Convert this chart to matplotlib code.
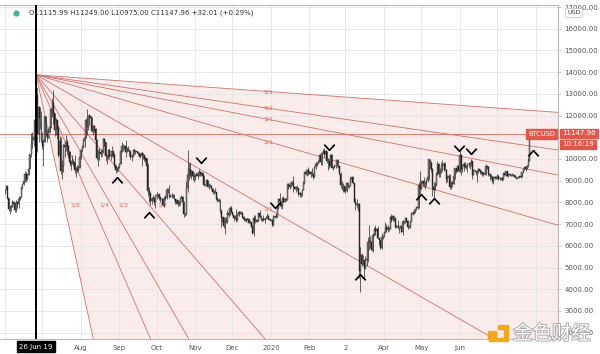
import matplotlib
matplotlib.use("Agg")
import matplotlib.pyplot as plt
import matplotlib.dates as mdates
import matplotlib.patheffects as pe
from matplotlib.patches import Polygon, Rectangle
import numpy as np
import pandas as pd

plt.rcParams['font.family'] = ['DejaVu Sans', 'Noto Sans CJK SC']

# daily BTCUSD candles, 1 Jun 2019 .. 28 Jul 2020
start_day = "2019-06-01"
first_open = 8550
closes = [
    8560, 8740, 8210, 7700, 7790, 7810, 8000, 7930, 7630, 8010, 7920, 8180, 8230, 8690, 8860, 8990, 9320, 9080, 9270, 9530, 10210, 10700, 10860, 11010, 11780, 12930, 11150, 12380, 11900, 10820,
    10580, 10800, 11980, 11150, 10980, 11250, 11470, 12300, 12580, 12100, 11350, 11800, 11380, 10200, 10850, 9450, 9690, 10630, 10530, 10760, 10590, 10320, 9850, 9780, 9880, 9850, 9480, 9530, 9500, 9590, 10090,
    10400, 10530, 10820, 10980, 11800, 11470, 11990, 11980, 11870, 11300, 11530, 11380, 10860, 10050, 10300, 10330, 10220, 10320, 10920, 10760, 10130, 10120, 10400, 10140, 10140, 10370, 10190, 9720, 9490, 9590, 9630,
    9760, 10380, 10620, 10580, 10580, 10320, 10500, 10390, 10310, 10110, 10150, 10400, 10360, 10360, 10310, 10260, 10190, 10160, 10270, 10170, 9980, 10030, 9700, 8530, 8430, 8060, 8180, 8200, 8040, 8300,
    8330, 8390, 8230, 8150, 8150, 7870, 8200, 8200, 8590, 8590, 8270, 8300, 8280, 8360, 8160, 8000, 8100, 7950, 7960, 8220, 8230, 8030, 7470, 7450, 8660, 9250, 9550, 9250, 9430, 9200, 9150,
    9250, 9300, 9200, 9400, 9320, 9340, 9200, 8790, 8810, 9030, 8720, 8820, 8760, 8640, 8460, 8490, 8500, 8170, 8120, 8080, 7610, 7280, 7330, 6900, 7120, 7160, 7520, 7430, 7760, 7570,
    7420, 7300, 7300, 7200, 7400, 7540, 7510, 7530, 7340, 7220, 7200, 7190, 7250, 7070, 7110, 6880, 6610, 7280, 7150, 7190, 7140, 7510, 7320, 7250, 7200, 7200, 7250, 7300, 7390, 7220, 7170,
    7200, 6960, 7340, 7350, 7350, 7760, 8160, 8050, 7820, 8190, 8020, 8180, 8110, 8820, 8810, 8720, 8900, 8900, 8700, 8630, 8720, 8660, 8380, 8430, 8330, 8590, 8900, 9390, 9290, 9510, 9350,
    9380, 9330, 9290, 9180, 9610, 9760, 9810, 9910, 10170, 9850, 10270, 10350, 10240, 10360, 9900, 9930, 9700, 10180, 9600, 9610, 9690, 9670, 9960, 9660, 9310, 8780, 8810, 8710, 8530,
    8520, 8910, 8760, 8750, 9070, 9150, 8890, 8030, 7940, 7890, 7940, 4850, 5600, 5170, 5360, 5000, 5330, 5410, 6190, 6190, 6190, 5830, 6480, 6770, 6690, 6760, 6370, 6250, 5880, 6400, 6420,
    6640, 6800, 6740, 6860, 6780, 7340, 7200, 7370, 7290, 6870, 6890, 6910, 6860, 6850, 6630, 7110, 7100, 7260, 7130, 6850, 6860, 7130, 7480, 7510, 7540, 7690, 7790, 7760, 8780, 8620,
    8830, 8970, 8900, 8880, 9030, 9150, 9990, 9810, 9540, 8720, 8560, 8810, 9310, 9790, 9310, 9380, 9670, 9730, 9780, 9510, 9060, 9170, 9180, 8720, 8900, 8840, 9200, 9580, 9430, 9700, 9450,
    10200, 9520, 9670, 9790, 9620, 9670, 9750, 9780, 9780, 9890, 9270, 9470, 9470, 9340, 9430, 9530, 9460, 9380, 9300, 9360, 9290, 9690, 9630, 9290, 9250, 9160, 9000, 9130, 9190, 9140,
    9230, 9090, 9060, 9130, 9080, 9340, 9250, 9430, 9230, 9290, 9240, 9300, 9240, 9250, 9190, 9130, 9150, 9170, 9210, 9160, 9390, 9530, 9610, 9550, 9700, 9930, 11116, 11148,
]
highs = [
    8620, 8800, 8750, 8200, 7900, 7890, 8100, 8080, 8000, 8120, 8030, 8200, 8310, 8700, 8870, 9000, 9440, 9380, 9300, 9530, 10250, 11200, 11230, 11070, 11800, 13880, 13300, 12450, 12350, 12200,
    11250, 10900, 12000, 12000, 11400, 11450, 11600, 12350, 12800, 13200, 12100, 11900, 11800, 11500, 11050, 11000, 9950, 10700, 10800, 11100, 10900, 10650, 10350, 9950, 10200, 10000, 10200, 9640, 9740, 9720, 10130,
    10450, 10650, 10950, 11100, 11900, 12300, 12000, 12050, 12000, 11950, 11580, 11550, 11450, 10900, 10450, 10500, 10470, 10450, 10950, 10950, 10800, 10250, 10450, 10450, 10300, 10600, 10380, 10280, 9700, 9650, 9700,
    9800, 10450, 10800, 10700, 10650, 10880, 10550, 10600, 10450, 10400, 10250, 10450, 10450, 10400, 10380, 10350, 10280, 10250, 10300, 10270, 10180, 10100, 10050, 9800, 8700, 8450, 8250, 8320, 8240, 8350,
    8500, 8400, 8400, 8250, 8200, 8200, 8300, 8350, 8670, 8650, 8800, 8400, 8450, 8400, 8400, 8170, 8150, 8120, 8100, 8260, 8330, 8300, 8050, 7500, 9000, 10400, 9800, 9850, 9500, 9450, 9400,
    9280, 9390, 9380, 9550, 9450, 9400, 9380, 9250, 8850, 9100, 9050, 8880, 8850, 8800, 8650, 8550, 8650, 8500, 8250, 8200, 8150, 7700, 7350, 7330, 7350, 7350, 7630, 7600, 7850, 7820,
    7570, 7420, 7400, 7700, 7500, 7600, 7600, 7600, 7580, 7380, 7280, 7260, 7300, 7280, 7200, 7120, 6950, 7400, 7400, 7230, 7200, 7530, 7660, 7400, 7270, 7430, 7300, 7380, 7500, 7400, 7280,
    7250, 7220, 7400, 7380, 7500, 7800, 8200, 8450, 8050, 8200, 8300, 8200, 8200, 8900, 8900, 8850, 9000, 9000, 9200, 8700, 8760, 8800, 8660, 8500, 8400, 8600, 9000, 9400, 9400, 9550, 9650,
    9440, 9470, 9590, 9340, 9700, 9850, 9870, 9950, 10200, 10150, 10300, 10450, 10500, 10400, 10380, 10050, 9950, 10250, 10250, 9700, 9750, 9700, 10000, 10000, 9680, 9400, 8980, 8900, 8800,
    8750, 8950, 8920, 8800, 9150, 9170, 9200, 8900, 8200, 8150, 7970, 7960, 5950, 5650, 5600, 5360, 5550, 5450, 6400, 6950, 6450, 6400, 6600, 6850, 6950, 6800, 6900, 6300, 6260, 6570, 6520,
    6690, 7100, 7000, 6980, 6880, 7380, 7450, 7420, 7380, 7300, 6950, 7200, 6900, 6950, 6940, 7200, 7150, 7300, 7280, 7200, 6950, 7150, 7550, 7600, 7700, 7700, 7800, 7800, 8950, 9450,
    9050, 9000, 9180, 9000, 9100, 9350, 9990, 10000, 9900, 9570, 8950, 8950, 9400, 9930, 9800, 9590, 9880, 9950, 9880, 9850, 9560, 9270, 9300, 9310, 8980, 9000, 9230, 9600, 9600, 9720, 9700,
    10400, 10230, 9690, 9880, 9850, 9730, 9800, 9800, 9880, 9990, 9930, 9540, 9500, 9480, 9500, 9580, 9550, 9480, 9400, 9400, 9420, 9780, 9700, 9680, 9340, 9290, 9200, 9200, 9230, 9200,
    9300, 9250, 9150, 9170, 9150, 9350, 9360, 9450, 9440, 9320, 9300, 9330, 9350, 9300, 9270, 9200, 9190, 9200, 9230, 9220, 9420, 9540, 9650, 9650, 9730, 10090, 11400, 11249,
]
lows = [
    8400, 8550, 8150, 7600, 7480, 7600, 7850, 7860, 7550, 7560, 7750, 7720, 8130, 8200, 8600, 8800, 8950, 8950, 9020, 9250, 9550, 10100, 10500, 10600, 11000, 11650, 10300, 10800, 11400, 10800,
    10450, 9700, 10780, 11050, 10800, 10950, 11200, 11450, 11950, 11600, 11050, 11100, 10900, 10100, 10050, 9300, 9100, 9400, 10100, 10350, 10200, 10050, 9700, 9500, 9750, 9700, 9350, 9190, 9400, 9400, 9580,
    10000, 10300, 10500, 10550, 11000, 11100, 11350, 11550, 11700, 11250, 11100, 11250, 10750, 9950, 9700, 9950, 10100, 10150, 10300, 10600, 9900, 9750, 10000, 10050, 9950, 10100, 10100, 9650, 9350, 9400, 9450,
    9580, 9760, 10320, 10380, 10450, 10100, 10300, 10350, 10150, 9980, 9900, 10100, 10200, 10250, 10280, 10150, 10100, 10050, 9700, 10000, 9900, 9860, 9680, 8300, 8000, 7900, 7950, 8050, 7900, 7750,
    8180, 8200, 8100, 8000, 8050, 7850, 7800, 8100, 8150, 8450, 8200, 8250, 8200, 8200, 8100, 7950, 7950, 7850, 7850, 7880, 8200, 8000, 7350, 7360, 7400, 8500, 9050, 9180, 9100, 9050, 8950,
    9020, 9200, 9100, 9200, 9200, 9200, 9100, 8750, 8740, 8780, 8700, 8640, 8700, 8600, 8400, 8400, 8450, 8100, 8000, 8030, 7530, 6850, 7100, 6800, 6550, 7050, 7050, 7350, 7400, 7500,
    7400, 7150, 7250, 7100, 7150, 7360, 7480, 7450, 7280, 7150, 7150, 7100, 7200, 7050, 7020, 6860, 6550, 6450, 7050, 7100, 7100, 7130, 7280, 7150, 7140, 7150, 7060, 7230, 7280, 7200, 7140,
    7150, 6900, 6900, 7270, 7300, 7350, 7700, 7850, 7750, 7700, 8000, 8030, 8050, 8100, 8600, 8620, 8700, 8800, 8500, 8600, 8500, 8580, 8300, 8250, 8250, 8300, 8580, 8850, 9250, 9200, 9250,
    9300, 9150, 9200, 9080, 9160, 9550, 9700, 9750, 9870, 9730, 9720, 10250, 10100, 10200, 9800, 9500, 9600, 9700, 9580, 9480, 9580, 9600, 9650, 9600, 9300, 8650, 8550, 8500, 8500,
    8420, 8500, 8650, 8650, 8750, 9000, 8850, 8000, 7630, 7720, 7600, 4500, 3860, 5050, 5100, 4450, 4950, 5050, 5250, 5800, 5900, 5750, 5700, 6450, 6500, 6550, 6330, 6050, 5850, 5850, 6320,
    6400, 6600, 6650, 6650, 6680, 6780, 7100, 7150, 7140, 6800, 6800, 6760, 6600, 6800, 6620, 6500, 7000, 7050, 7080, 6780, 6800, 6830, 7100, 7420, 7480, 7520, 7650, 7700, 7730, 8400,
    8650, 8750, 8720, 8600, 8760, 8920, 9050, 9560, 9400, 8300, 8200, 8550, 8750, 9270, 9150, 9170, 9360, 9470, 9460, 9500, 8900, 8950, 9120, 8640, 8600, 8720, 8840, 9100, 9350, 9400, 9400,
    9420, 9280, 9400, 9460, 9580, 9550, 9400, 9650, 9550, 9700, 9100, 9240, 9400, 9250, 8950, 9350, 9330, 9300, 9200, 9200, 9250, 9280, 9550, 9200, 9050, 9080, 8900, 8860, 9070, 9100,
    9100, 9040, 9050, 9050, 9000, 9050, 9230, 9230, 9220, 9150, 9200, 9200, 9230, 9200, 9160, 9100, 9100, 9130, 9130, 9120, 9150, 9350, 9510, 9450, 9530, 9650, 9900, 10975,
]

last_price = 11147.96
ohlc_text = "O11115.99 H11249.00 L10975.00 C11147.96 +32.01 (+0.29%)"

# Gann fan drawn from the 26 Jun 2019 top
fan_date = "2019-06-26"
fan_price = 13880
fan_slope = 33.0          # USD per day for the 1/1 line
fan_box_days = 187
fan_ratios = [8, 4, 3, 2, 1, 1/2, 1/3, 1/4, 1/8]
fan_labels = ["8/1", "4/1", "3/1", "2/1", "1/1", "1/2", "1/3", "1/4", "1/8"]

# hand drawn chevrons: date, price, direction
marks = [
    ("2019-08-30", 9030, "up"), ("2019-09-25", 7400, "up"), ("2019-11-06", 9950, "down"),
    ("2020-01-04", 7900, "down"), ("2020-02-17", 10550, "down"), ("2020-03-13", 4560, "up"),
    ("2020-05-01", 8250, "up"), ("2020-05-11", 8060, "up"), ("2020-05-31", 10510, "down"),
    ("2020-06-10", 10370, "down"), ("2020-07-30", 10280, "up"),
]

month_ticks = ["2019-08-01", "2019-09-01", "2019-10-01", "2019-11-01", "2019-12-01", "2020-01-01",
               "2020-02-01", "2020-03-01", "2020-04-01", "2020-05-01", "2020-06-01"]
month_labels = ["Aug", "Sep", "Oct", "Nov", "Dec", "2020", "Feb", "2", "Apr", "May", "Jun"]
grid_months = pd.date_range("2019-06-01", "2020-08-01", freq="MS")
price_ticks = list(range(2000, 18000, 1000))

fan_red = "#cf716b"
grid_c = "#e4e4e4"

fig = plt.figure(figsize=(6, 3.54), dpi=100)
ax = fig.add_axes([0, 15 / 354, 558 / 600, 334 / 354])

x = mdates.date2num(pd.date_range(start_day, periods=len(closes), freq="D"))
o = np.array([first_open] + closes[:-1], dtype=float)
c = np.array(closes, dtype=float)
h = np.maximum(np.array(highs, dtype=float), np.maximum(o, c))
l = np.minimum(np.array(lows, dtype=float), np.minimum(o, c))

x0 = mdates.date2num(pd.Timestamp(fan_date))
ax.set_xlim(x0 - 29, x0 + 420)
ax.set_ylim(1709, 17093)

# grid
for gm in mdates.date2num(grid_months):
    ax.axvline(gm, color=grid_c, lw=0.6, zorder=1)
for p in price_ticks:
    ax.axhline(p, color=grid_c, lw=0.6, zorder=1)

# fan fill and lines
far = x0 + 2000
poly = Polygon([(x0, fan_price), (far, fan_price - 2000 * fan_slope / 8),
                (far, -50000), (x0 + (fan_price + 50000) / (fan_slope * 8), -50000)],
               closed=True, facecolor="#f5d5d3", edgecolor="none", alpha=0.45, zorder=0.5)
ax.add_patch(poly)
for r, lab in zip(fan_ratios, fan_labels):
    k = fan_slope / r
    ax.plot([x0, far], [fan_price, fan_price - k * (far - x0)], color=fan_red, lw=0.6, zorder=2)
    if r >= 1:
        lx, ly = x0 + fan_box_days, fan_price - k * fan_box_days
        ax.text(lx, ly, lab, fontsize=4.5, color=fan_red, ha="center", va="center", zorder=2.5)
    else:
        ly = fan_price - fan_slope * fan_box_days
        lx = x0 + fan_box_days * r
        ax.text(lx + 4, ly + 150, lab, fontsize=4.5, color=fan_red, ha="left", va="center", zorder=2.5)

# last price line
ax.axhline(last_price, color="#e26a60", lw=0.6, zorder=2)

# candles
ax.vlines(x, l, h, color="#262626", lw=0.5, zorder=3)
up = c >= o
body_lo = np.minimum(o, c)
body_h = np.maximum(np.abs(c - o), 25)
ax.bar(x, body_h, bottom=body_lo, width=0.75, color=np.where(up, "#9a9a9a", "#2a2a2a"),
       edgecolor="#1e1e1e", lw=0.3, zorder=4)

# chevrons
chev_up = [(-1, -0.55), (0, 0.55), (1, -0.55)]
chev_dn = [(-1, 0.55), (0, -0.55), (1, 0.55)]
for d, p, kind in marks:
    ax.plot(mdates.date2num(pd.Timestamp(d)), p, marker=chev_up if kind == "up" else chev_dn,
            ms=7.5, mfc="none", mec="black", mew=1.2, zorder=6)

# crosshair at 26 Jun 19
ax.axvline(x0, color="black", lw=1.4, zorder=7)

# axes styling
ax.spines["left"].set_visible(False)
for s in ["top", "right", "bottom"]:
    ax.spines[s].set_color("#b9b9b9")
    ax.spines[s].set_linewidth(0.8)
ax.yaxis.tick_right()
ax.set_yticks(price_ticks)
# the 11000 label sits under the last-price box
ax.set_yticklabels(["" if p == 11000 else f"{p:.2f}" for p in price_ticks])
ax.tick_params(axis="y", length=2.5, width=0.5, color="#aaaaaa", labelsize=5, labelcolor="#555555", pad=2)
ax.set_xticks(mdates.date2num(pd.to_datetime(month_ticks)))
ax.set_xticklabels(month_labels)
ax.tick_params(axis="x", length=0, labelsize=5, labelcolor="#555555", pad=4)

# boxes on the axes
ax.annotate("26 Jun 19", xy=(x0, 0), xycoords=("data", "axes fraction"), xytext=(0, -3.5),
            textcoords="offset points", ha="center", va="top", fontsize=5, color="white",
            bbox=dict(boxstyle="square,pad=0.35", fc="black", ec="black"), zorder=10, annotation_clip=False)
ax.annotate(f"{last_price:.2f}", xy=(1, last_price), xycoords=("axes fraction", "data"), xytext=(3, 0.5),
            textcoords="offset points", ha="left", va="center", fontsize=5, color="white",
            bbox=dict(boxstyle="square,pad=0.25", fc="#e0584c", ec="#e0584c"), zorder=10, annotation_clip=False)
ax.annotate("10:16:19", xy=(1, last_price), xycoords=("axes fraction", "data"), xytext=(3, -7.5),
            textcoords="offset points", ha="left", va="center", fontsize=5, color="white",
            bbox=dict(boxstyle="square,pad=0.25", fc="#e0584c", ec="#e0584c"), zorder=10, annotation_clip=False)
ax.annotate("BTCUSD", xy=(1, last_price), xycoords=("axes fraction", "data"), xytext=(-2, 0),
            textcoords="offset points", ha="right", va="center", fontsize=4.8, color="white",
            bbox=dict(boxstyle="square,pad=0.3", fc="#e0584c", ec="#e0584c"), zorder=10)

# header
fig.text(29 / 600, 1 - 13 / 354, ohlc_text, fontsize=5, color="#333333", va="center", ha="left", zorder=12)
fig.text(574 / 600, 1 - 13 / 354, "USD", fontsize=4.6, color="#444444", va="center", ha="center",
         bbox=dict(boxstyle="round,pad=0.3", fc="white", ec="#bbbbbb", lw=0.5), zorder=12)

# overlay in pixel coordinates for the teal dot and watermark
ov = fig.add_axes([0, 0, 1, 1], zorder=20)
ov.set_xlim(0, 600)
ov.set_ylim(354, 0)
ov.axis("off")
ov.plot(16, 13, "o", ms=3.5, color="#4fae9f")
ov.add_patch(Rectangle((488, 331), 8, 8, color="#f2a81d"))
ov.add_patch(Polygon([(498, 325), (508, 325), (508, 341), (489, 341), (489, 338), (504, 338),
                      (504, 329), (498, 329)], closed=True, color="#f2a81d"))
ov.text(513, 334, "金色财经", fontsize=14, color="white", va="center", ha="left",
        family=["Noto Sans CJK SC", "DejaVu Sans"],
        path_effects=[pe.withStroke(linewidth=1.3, foreground="#a8a8a8")])

fig.savefig("out.png", dpi=100)
